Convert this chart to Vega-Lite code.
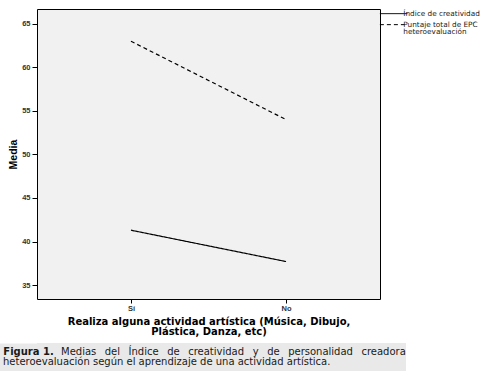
{
  "$schema": "https://vega.github.io/schema/vega-lite/v6.json",
  "padding": {"left": 0, "top": 8, "right": 0, "bottom": 0},
  "spacing": 6,
  "config": {
    "font": "Liberation Sans",
    "axis": {"grid": false, "domain": false, "tickColor": "black", "labelColor": "#333333", "titleColor": "black"},
    "text": {"align": "left", "baseline": "alphabetic", "font": "DejaVu Sans", "fontSize": 10, "color": "#1a1a1a"}
  },
  "vconcat": [
    {
      "width": 343,
      "height": 290,
      "view": {"fill": "#f1f1f1", "stroke": "black", "strokeWidth": 1},
      "data": {
        "values": [
          {"actividad": "Sí", "serie": "Índice de creatividad", "media": 41.3},
          {"actividad": "No", "serie": "Índice de creatividad", "media": 37.7},
          {"actividad": "Sí", "serie": "Puntaje total de EPC heteroevaluación", "media": 63.0},
          {"actividad": "No", "serie": "Puntaje total de EPC heteroevaluación", "media": 54.0}
        ]
      },
      "mark": {"type": "line", "color": "black", "strokeWidth": 1.2},
      "encoding": {
        "x": {
          "field": "actividad", "type": "nominal", "sort": ["Sí", "No"],
          "scale": {"type": "point", "padding": 0.606},
          "axis": {
            "labelAngle": 0, "labelFontSize": 7.5, "labelFontWeight": "bold", "tickSize": 4, "labelPadding": 1,
            "title": ["Realiza alguna actividad artística (Música, Dibujo,", "Plástica, Danza, etc)"],
            "titleFont": "DejaVu Sans", "titleFontSize": 10, "titleFontWeight": "bold", "titleLineHeight": 9.5, "titlePadding": 5
          }
        },
        "y": {
          "field": "media", "type": "quantitative",
          "scale": {"domain": [33.4, 66.7], "nice": false, "zero": false},
          "axis": {
            "values": [35, 40, 45, 50, 55, 60, 65], "labelFontSize": 7.5, "labelFontWeight": "bold",
            "tickSize": 5, "labelPadding": 2,
            "title": [" ", "Media"], "titleFontSize": 10.5, "titleFontWeight": "bold", "titleLineHeight": 8, "titlePadding": 3
          }
        },
        "strokeDash": {
          "field": "serie", "type": "nominal",
          "scale": {"domain": ["Índice de creatividad", "Puntaje total de EPC heteroevaluación"], "range": [[1, 0], [4, 3]]},
          "legend": {
            "orient": "none", "legendX": 353, "legendY": 1, "title": null, "padding": 0,
            "symbolType": "M-5.8,0H5.8", "symbolSize": 22.56, "symbolStrokeWidth": 1, "symbolStrokeColor": "black", "symbolFillColor": "transparent",
            "labelFont": "DejaVu Sans", "labelFontSize": 7.3, "labelColor": "#222222", "labelOffset": 6, "rowPadding": 3, "labelLimit": 200,
            "labelExpr": "datum.label == 'Puntaje total de EPC heteroevaluación' ? ['Puntaje total de EPC', 'heteroevaluación'] : datum.label",
            "encode": {"labels": {"update": {"lineHeight": {"value": 7}}}}
          }
        }
      }
    },
    {
      "width": 369,
      "height": 28,
      "view": {"fill": "#e9e9e9", "stroke": null},
      "data": {
        "values": [
          {"linea": 1, "id": 0, "texto": "Figura 1."},
          {"linea": 1, "id": 1, "texto": "Medias"},
          {"linea": 1, "id": 2, "texto": "del"},
          {"linea": 1, "id": 3, "texto": "Índice"},
          {"linea": 1, "id": 4, "texto": "de"},
          {"linea": 1, "id": 5, "texto": "creatividad"},
          {"linea": 1, "id": 6, "texto": "y"},
          {"linea": 1, "id": 7, "texto": "de"},
          {"linea": 1, "id": 8, "texto": "personalidad"},
          {"linea": 1, "id": 9, "texto": "creadora"},
          {"linea": 2, "id": 10, "texto": "heteroevaluación según el aprendizaje de una actividad artística."}
        ]
      },
      "encoding": {
        "y": {
          "field": "linea", "type": "quantitative", "scale": {"domain": [-0.23, 2.57], "range": [0, 28]},
          "axis": {"title": null, "labels": false, "ticks": false, "grid": false, "domain": true, "domainColor": "#e9e9e9", "domainWidth": 38, "domainCap": "butt", "offset": 19}
        },
        "text": {"field": "texto"}
      },
      "layer": [
        {"transform": [{"filter": "datum.id == 0"}], "mark": {"type": "text", "fontWeight": "bold", "dx": -218.2}},
        {"transform": [{"filter": "datum.id == 1"}], "mark": {"type": "text", "dx": -160.5}},
        {"transform": [{"filter": "datum.id == 2"}], "mark": {"type": "text", "dx": -116.75}},
        {"transform": [{"filter": "datum.id == 3"}], "mark": {"type": "text", "dx": -92.95}},
        {"transform": [{"filter": "datum.id == 4"}], "mark": {"type": "text", "dx": -54.35}},
        {"transform": [{"filter": "datum.id == 5"}], "mark": {"type": "text", "dx": -33.35}},
        {"transform": [{"filter": "datum.id == 6"}], "mark": {"type": "text", "dx": 31.25}},
        {"transform": [{"filter": "datum.id == 7"}], "mark": {"type": "text", "dx": 45.65}},
        {"transform": [{"filter": "datum.id == 8"}], "mark": {"type": "text", "dx": 66.65}},
        {"transform": [{"filter": "datum.id == 9"}], "mark": {"type": "text", "dx": 139.95}},
        {"transform": [{"filter": "datum.id == 10"}], "mark": {"type": "text", "dx": -218.5}}
      ]
    }
  ]
}
